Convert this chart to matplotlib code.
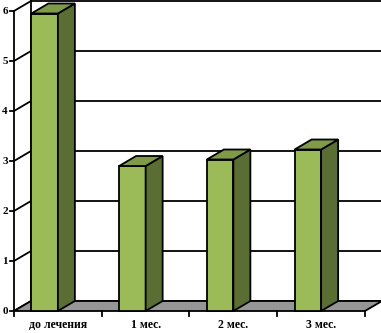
#!/usr/bin/env python3
"""Pseudo-3D bar chart (Excel style) redrawn with matplotlib."""

import matplotlib
matplotlib.use("Agg")
import matplotlib.pyplot as plt
from matplotlib.patches import Polygon

# data
categories = ["до лечения", "1 мес.", "2 мес.", "3 мес."]
values = [5.95, 2.9, 3.03, 3.23]
y_ticks = [0, 1, 2, 3, 4, 5, 6]

FRONT = "#9bbb59"
SIDE = "#5a6e33"
TOP = "#7f9a48"
FLOOR = "#969696"

# pixel scale of the data units (figure is 381x333 px at dpi 100)
PX_X = 1 / 87.75
PX_Y = 1 / 50.0
DX = 17 * PX_X   # depth offset
DY = 10 * PX_Y

fig = plt.figure(figsize=(3.81, 3.33), dpi=100)
ax = fig.add_axes([0, 0, 1, 1])
ax.set_xlim(-0.5 - 14 * PX_X, 3.5 + 16 * PX_X)
ax.set_ylim(-22 * PX_Y, 311 * PX_Y)
ax.axis("off")

x0, x1 = -0.5, len(categories) - 0.5
ymax = y_ticks[-1]
lw = 1.3

# back wall grid + left wall
for v in y_ticks:
    ax.plot([x0 + DX, x1 + DX], [v + DY, v + DY], color="black", lw=lw, zorder=1)
    ax.plot([x0, x0 + DX], [v, v + DY], color="black", lw=lw, zorder=1)
    ax.plot([x0 - 4 * PX_X, x0], [v, v], color="black", lw=lw, zorder=1)
    ax.text(x0 - 6 * PX_X, v, str(v), ha="right", va="center",
            fontsize=8, fontweight="bold", family="Liberation Serif")
ax.plot([x0, x0], [0, ymax], color="black", lw=lw, zorder=1)
ax.plot([x0 + DX, x0 + DX], [DY, ymax + DY], color="black", lw=lw, zorder=1)

# floor
ax.add_patch(Polygon([(x0, 0), (x1, 0), (x1 + DX, DY), (x0 + DX, DY)],
                     closed=True, facecolor=FLOOR, edgecolor="black", lw=lw, zorder=2))
for i in range(len(categories) + 1):
    xt = x0 + i
    ax.plot([xt, xt], [0, -5 * PX_Y], color="black", lw=lw, zorder=2)

# bars
bw = 26.5 * PX_X
for i, (cat, v) in enumerate(zip(categories, values)):
    left, right = i - bw, i
    ax.add_patch(Polygon([(left, 0), (right, 0), (right, v), (left, v)],
                         closed=True, facecolor=FRONT, edgecolor="black", lw=lw, zorder=3))
    ax.add_patch(Polygon([(right, 0), (right + DX, DY), (right + DX, v + DY), (right, v)],
                         closed=True, facecolor=SIDE, edgecolor="black", lw=lw, zorder=3))
    ax.add_patch(Polygon([(left, v), (right, v), (right + DX, v + DY), (left + DX, v + DY)],
                         closed=True, facecolor=TOP, edgecolor="black", lw=lw, zorder=3))
    ax.text(i, -14 * PX_Y, cat, ha="center", va="center", fontsize=8.5,
            fontweight="bold", family="Liberation Serif")

fig.savefig("out.png", dpi=100)
